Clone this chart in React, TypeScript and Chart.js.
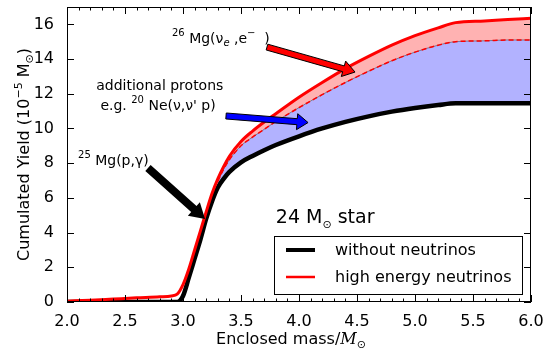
import React, { useEffect, useRef } from 'react';
import { Chart, registerables } from 'chart.js';

Chart.register(...registerables);

// ---- data (enclosed mass in M_sun, cumulated yield in 1e-5 M_sun) ----
const massGrid = [2.0, 2.2, 2.4, 2.6, 2.8, 2.9, 2.95, 3.0, 3.05, 3.1, 3.15, 3.2, 3.25, 3.3, 3.35, 3.4, 3.5, 3.6, 3.7, 3.8, 4.0, 4.2, 4.4, 4.6, 4.8, 5.0, 5.2, 5.35, 5.6, 5.8, 6.0];
const yieldWithoutNeutrinos = [0, 0, 0, 0, 0, 0, 0, 0.35, 1.4, 2.5, 3.6, 4.8, 5.8, 6.6, 7.1, 7.5, 8.05, 8.42, 8.75, 9.05, 9.55, 10.0, 10.38, 10.7, 10.97, 11.18, 11.35, 11.45, 11.45, 11.45, 11.45];
const yieldHighEnergy = [0.05, 0.1, 0.17, 0.24, 0.3, 0.35, 0.45, 1.0, 1.9, 3.0, 4.1, 5.2, 6.25, 7.1, 7.8, 8.4, 9.25, 9.85, 10.37, 10.85, 11.8, 12.65, 13.45, 14.15, 14.8, 15.35, 15.8, 16.1, 16.2, 16.28, 16.35];
// intermediate curve (dashed), defined from massGrid[13] = 3.3 onward
const splitIndex = 13;
const yieldIntermediate = [6.95, 7.65, 8.2, 9.0, 9.5, 9.95, 10.4, 11.2, 11.95, 12.65, 13.3, 13.9, 14.4, 14.8, 15.0, 15.05, 15.1, 15.1];

const xTickStep = 0.5;
const xMinorStep = 0.1;
const yTickStep = 2;
const xRange = [2, 6];
const yRange = [0, 17];

const legendLabels = ['without neutrinos', 'high energy neutrinos'];

// annotation anchors in data units
const arrowBlack = { from: [2.698, 7.72], to: [3.19, 4.78] };
const arrowBlue = { from: [3.371, 10.72], to: [4.078, 10.34] };
const arrowRed = { from: [3.724, 14.69], to: [4.483, 13.25] };
const label25 = [2.095, 7.9];
const labelProtons1 = [2.80, 12.19];
const labelProtons2 = [2.785, 11.06];
const label26 = [2.905, 14.95];
const labelStar = [3.80, 4.55];

const SANS = '"DejaVu Sans"';

type Run = { t: string; s: number; dy?: number; style?: string; family?: string };

function fontOf(r: Run) {
  return `${r.style ? r.style + ' ' : ''}${r.s}px ${r.family ? '"' + r.family + '"' : SANS}`;
}
function runsWidth(ctx: CanvasRenderingContext2D, runs: Run[]) {
  let w = 0;
  for (const r of runs) {
    ctx.font = fontOf(r);
    w += ctx.measureText(r.t).width;
  }
  return w;
}
function drawRuns(ctx: CanvasRenderingContext2D, runs: Run[], x: number, y: number, align: 'left' | 'center' = 'left') {
  let cx = align === 'center' ? x - runsWidth(ctx, runs) / 2 : x;
  ctx.textAlign = 'left';
  ctx.textBaseline = 'alphabetic';
  for (const r of runs) {
    ctx.font = fontOf(r);
    ctx.fillText(r.t, cx, y + (r.dy || 0));
    cx += ctx.measureText(r.t).width;
  }
}
function drawArrow(ctx: CanvasRenderingContext2D, x1: number, y1: number, x2: number, y2: number, sw: number, hw: number, hl: number, fill: string, stroke: string | null) {
  const dx = x2 - x1, dy = y2 - y1;
  const len = Math.hypot(dx, dy);
  const ux = dx / len, uy = dy / len;
  const nx = -uy, ny = ux;
  const bx = x2 - ux * hl, by = y2 - uy * hl;
  ctx.beginPath();
  ctx.moveTo(x1 + nx * sw / 2, y1 + ny * sw / 2);
  ctx.lineTo(bx + nx * sw / 2, by + ny * sw / 2);
  ctx.lineTo(bx + nx * hw / 2, by + ny * hw / 2);
  ctx.lineTo(x2, y2);
  ctx.lineTo(bx - nx * hw / 2, by - ny * hw / 2);
  ctx.lineTo(bx - nx * sw / 2, by - ny * sw / 2);
  ctx.lineTo(x1 - nx * sw / 2, y1 - ny * sw / 2);
  ctx.closePath();
  ctx.fillStyle = fill;
  ctx.fill();
  if (stroke) {
    ctx.strokeStyle = stroke;
    ctx.lineWidth = 1;
    ctx.lineJoin = 'miter';
    ctx.stroke();
  }
}

const decorPlugin = {
  id: 'decor',
  afterDraw(chart: any) {
    const ctx: CanvasRenderingContext2D = chart.ctx;
    const { left, right, top, bottom } = chart.chartArea;
    const xs = chart.scales.x, ys = chart.scales.y;
    const px = (v: number) => xs.getPixelForValue(v);
    const py = (v: number) => ys.getPixelForValue(v);
    ctx.save();

    // frame
    ctx.strokeStyle = '#000';
    ctx.lineWidth = 1;
    ctx.strokeRect(left + 0.5, top + 0.5, right - left - 1, bottom - top - 1);

    // inward ticks
    ctx.beginPath();
    const nMinor = Math.round((xRange[1] - xRange[0]) / xMinorStep);
    for (let i = 0; i <= nMinor; i++) {
      const v = xRange[0] + i * xMinorStep;
      const isMajor = Math.abs(v / xTickStep - Math.round(v / xTickStep)) < 1e-6;
      const L = isMajor ? 7 : 3.5;
      const x = Math.round(px(v)) + 0.5;
      ctx.moveTo(x, bottom); ctx.lineTo(x, bottom - L);
      ctx.moveTo(x, top); ctx.lineTo(x, top + L);
    }
    for (let v = yRange[0]; v <= yRange[1]; v += yTickStep) {
      const y = Math.round(py(v)) + 0.5;
      ctx.moveTo(left, y); ctx.lineTo(left + 7, y);
      ctx.moveTo(right, y); ctx.lineTo(right - 7, y);
    }
    ctx.stroke();

    // arrows
    drawArrow(ctx, px(arrowBlack.from[0]), py(arrowBlack.from[1]), px(arrowBlack.to[0]), py(arrowBlack.to[1]), 8, 18, 15, '#000', null);
    drawArrow(ctx, px(arrowBlue.from[0]), py(arrowBlue.from[1]), px(arrowBlue.to[0]), py(arrowBlue.to[1]), 6, 16, 11, '#0000ff', '#000');
    drawArrow(ctx, px(arrowRed.from[0]), py(arrowRed.from[1]), px(arrowRed.to[0]), py(arrowRed.to[1]), 6, 16, 12, '#ff0000', '#000');

    ctx.fillStyle = '#000';
    drawRuns(ctx, [{ t: '25', s: 10, dy: -7 }, { t: ' Mg(p,γ)', s: 14 }], px(label25[0]), py(label25[1]));
    drawRuns(ctx, [{ t: 'additional protons', s: 14 }], px(labelProtons1[0]), py(labelProtons1[1]), 'center');
    drawRuns(ctx, [{ t: 'e.g. ', s: 14 }, { t: '20', s: 10, dy: -7 }, { t: ' Ne(ν,ν\' p)', s: 14 }], px(labelProtons2[0]), py(labelProtons2[1]), 'center');
    drawRuns(ctx, [{ t: '26', s: 10, dy: -7 }, { t: ' Mg(ν', s: 14 }, { t: 'e', s: 10, dy: 3, style: 'italic' }, { t: ' ,e', s: 14 }, { t: '−', s: 10, dy: -7 }, { t: '  )', s: 14 }], px(label26[0]), py(label26[1]));
    drawRuns(ctx, [{ t: '24 M', s: 19 }, { t: '⊙', s: 11, dy: 5 }, { t: ' star', s: 19 }], px(labelStar[0]), py(labelStar[1]));

    // legend
    const bx0 = right - 257, by0 = bottom - 66, bw = 248, bh = 58;
    ctx.fillStyle = '#fff';
    ctx.fillRect(bx0, by0, bw, bh);
    ctx.strokeStyle = '#000';
    ctx.lineWidth = 1;
    ctx.strokeRect(bx0 + 0.5, by0 + 0.5, bw, bh);
    const rows = [
      { label: legendLabels[0], color: '#000', w: 4 },
      { label: legendLabels[1], color: '#ff0000', w: 2.5 },
    ];
    rows.forEach((r, i) => {
      const yy = by0 + 14 + i * 27;
      ctx.beginPath();
      ctx.strokeStyle = r.color;
      ctx.lineWidth = r.w;
      ctx.moveTo(bx0 + 12, yy);
      ctx.lineTo(bx0 + 41, yy);
      ctx.stroke();
      ctx.fillStyle = '#000';
      ctx.font = `16px ${SANS}`;
      ctx.textBaseline = 'middle';
      ctx.textAlign = 'left';
      ctx.fillText(r.label, bx0 + 61, yy + 1);
    });

    // axis titles
    ctx.fillStyle = '#000';
    drawRuns(ctx, [{ t: 'Enclosed mass/', s: 16 }, { t: 'M', s: 16, style: 'italic', family: 'DejaVu Serif' }, { t: '⊙', s: 11, dy: 4 }], (left + right) / 2 - 8, 344, 'center');
    ctx.translate(29, (top + bottom) / 2);
    ctx.rotate(-Math.PI / 2);
    drawRuns(ctx, [{ t: 'Cumulated Yield (10', s: 16 }, { t: '−5', s: 11, dy: -7 }, { t: ' M', s: 16 }, { t: '⊙', s: 11, dy: 4 }, { t: ')', s: 16 }], 0, 0, 'center');
    ctx.restore();
  },
};

export default function App() {
  const ref = useRef<HTMLCanvasElement | null>(null);
  useEffect(() => {
    if (!ref.current) return;
    const pts = (ys: number[], offset = 0) => ys.map((y, i) => ({ x: massGrid[i + offset], y }));
    const tickFont = { family: 'DejaVu Sans', size: 16 };
    const chart = new Chart(ref.current, {
      type: 'line',
      data: {
        datasets: [
          {
            label: legendLabels[0],
            data: pts(yieldWithoutNeutrinos),
            borderColor: '#000',
            borderWidth: 4.5,
            fill: false,
            order: 1,
            cubicInterpolationMode: 'monotone',
          },
          {
            label: legendLabels[1],
            data: pts(yieldHighEnergy),
            borderColor: '#ff0000',
            borderWidth: 3,
            fill: false,
            order: 0,
            cubicInterpolationMode: 'monotone',
          },
          {
            label: 'intermediate',
            data: pts(yieldIntermediate, splitIndex),
            borderColor: '#ff0000',
            borderWidth: 1.5,
            borderDash: [5, 3],
            backgroundColor: 'rgba(0,0,255,0.3)',
            fill: 0,
            order: 2,
            cubicInterpolationMode: 'monotone',
          },
          {
            label: 'upper band',
            data: pts(yieldHighEnergy.slice(splitIndex), splitIndex),
            borderWidth: 0,
            borderColor: 'rgba(0,0,0,0)',
            backgroundColor: 'rgba(255,0,0,0.3)',
            fill: 2,
            order: 4,
            cubicInterpolationMode: 'monotone',
          },
          {
            label: 'intermediate edge',
            data: pts(yieldIntermediate, splitIndex),
            borderColor: 'rgba(110,110,140,0.9)',
            borderWidth: 1,
            fill: false,
            order: 3,
            cubicInterpolationMode: 'monotone',
          },
        ] as any,
      },
      options: {
        animation: false,
        responsive: false,
        maintainAspectRatio: false,
        layout: { padding: { top: 7, right: 17, left: 0, bottom: 0 } },
        elements: { point: { radius: 0 } },
        plugins: {
          legend: { display: false },
          tooltip: { enabled: false },
          filler: { drawTime: 'beforeDatasetsDraw', propagate: false },
        } as any,
        scales: {
          x: {
            type: 'linear',
            min: xRange[0],
            max: xRange[1],
            grid: { display: false },
            border: { display: false },
            ticks: {
              stepSize: xTickStep,
              font: tickFont,
              color: '#000',
              padding: 2,
              maxRotation: 0,
              autoSkip: false,
              callback: (v: any) => Number(v).toFixed(1),
            },
            afterFit: (s: any) => { s.height = 52; s.paddingLeft = 0; s.paddingRight = 0; },
          },
          y: {
            type: 'linear',
            min: yRange[0],
            max: yRange[1],
            grid: { display: false },
            border: { display: false },
            ticks: {
              stepSize: yTickStep,
              includeBounds: false,
              font: tickFont,
              color: '#000',
              padding: 5,
            },
            afterFit: (s: any) => { s.width = 67; s.paddingTop = 0; s.paddingBottom = 0; },
          },
        } as any,
      },
      plugins: [decorPlugin],
    });
    return () => chart.destroy();
  }, []);
  return (
    <div style={{ position: 'fixed', left: 0, top: 0, width: 548, height: 354, background: '#fff' }}>
      <canvas ref={ref} width={548} height={354} style={{ width: 548, height: 354 }} />
    </div>
  );
}
